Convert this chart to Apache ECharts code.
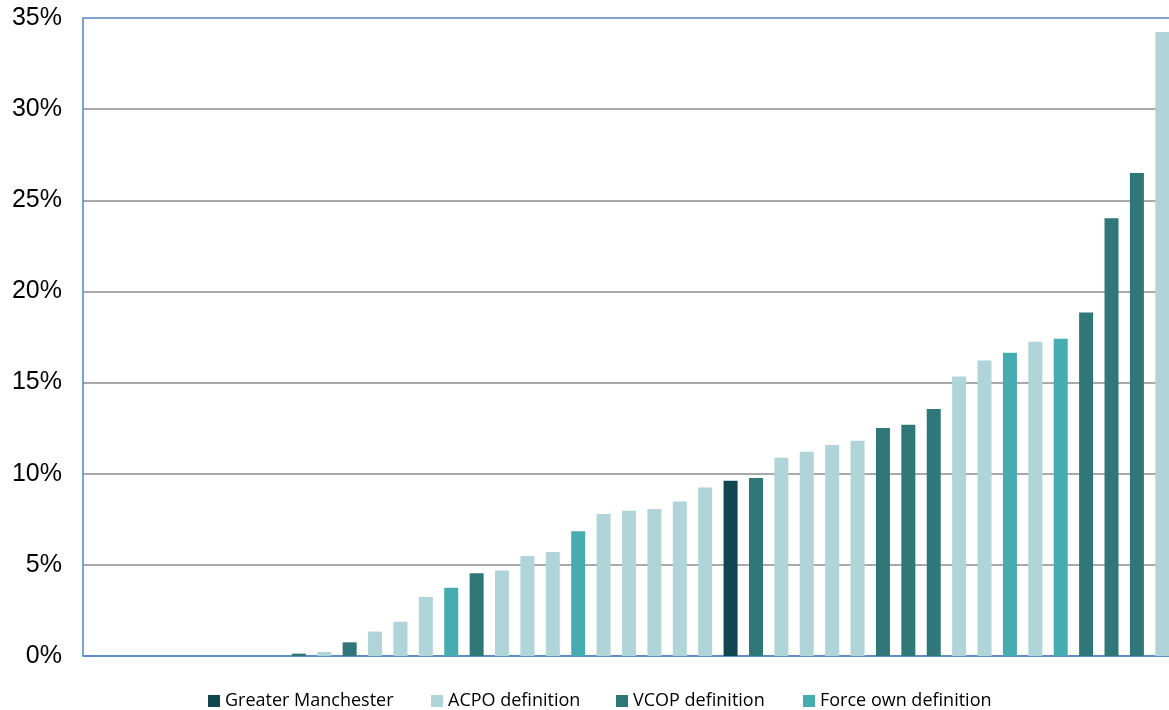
<!DOCTYPE html>
<html>
<head>
<meta charset="utf-8">
<script src="https://cdn.jsdelivr.net/npm/echarts@6/dist/echarts.min.js"></script>
<style>
  html, body { margin: 0; padding: 0; background: #fff; }
  #chart { width: 1169px; height: 710px; }
</style>
</head>
<body>
<div id="chart"></div>
<script>
// Share of recorded incidents, per police force, sorted ascending (percent)
const forceValues = [
  0, 0, 0, 0, 0, 0, 0, 0,
  0.13, 0.22, 0.75, 1.34, 1.88, 3.24, 3.75, 4.54, 4.69, 5.48, 5.71, 6.85,
  7.79, 7.97, 8.06, 8.48, 9.25, 9.62, 9.76, 10.88, 11.21, 11.58, 11.81,
  12.51, 12.68, 13.55, 15.33, 16.21, 16.63, 17.24, 17.40, 18.85, 24.01, 26.5, 34.23
];
// Definition used by each force: 0 = Greater Manchester, 1 = ACPO, 2 = VCOP, 3 = force's own
const forceDefinition = [
  1, 1, 1, 1, 1, 1, 1, 1,
  2, 1, 2, 1, 1, 1, 3, 2, 1, 1, 1, 3,
  1, 1, 1, 1, 1, 0, 2, 1, 1, 1, 1,
  2, 2, 2, 1, 1, 3, 1, 3, 2, 2, 2, 1
];
const categories = forceValues.map((_, i) => String(i + 1));
const seriesNames = ['Greater Manchester', 'ACPO definition', 'VCOP definition', 'Force own definition'];
const seriesColors = ['#0f4650', '#afd5d8', '#2f7779', '#47acb1'];
const legendLefts = [208, 431, 616, 803];
const yTicks = [0, 5, 10, 15, 20, 25, 30, 35];

const series = seriesNames.map((name, k) => ({
  name: name,
  type: 'bar',
  stack: 'forces',
  barWidth: 14,
  itemStyle: { color: seriesColors[k] },
  emphasis: { disabled: true },
  data: forceValues.map((v, i) => (forceDefinition[i] === k ? v : '-'))
}));

// one legend block per entry so each sits at its own x position
const legends = seriesNames.map((name, k) => ({
  data: [name],
  left: legendLefts[k],
  top: 692,
  padding: 0,
  itemWidth: 12,
  itemHeight: 12,
  itemGap: 0,
  icon: 'rect',
  textStyle: { fontFamily: 'Open Sans', fontSize: 18, color: '#000' },
  selectedMode: false
}));

const chart = echarts.init(document.getElementById('chart'), null, { renderer: 'canvas' });
chart.setOption({
  animation: false,
  backgroundColor: '#ffffff',
  grid: { left: 83, top: 18, width: 1092, height: 638, containLabel: false, outerBoundsMode: 'none' },
  legend: legends,
  xAxis: {
    type: 'category',
    data: categories,
    axisLine: { show: true, lineStyle: { color: '#5584c4', width: 1.5 } },
    axisTick: { show: false },
    axisLabel: { show: false },
    splitLine: { show: false }
  },
  yAxis: {
    type: 'value',
    min: yTicks[0],
    max: yTicks[yTicks.length - 1],
    interval: 5,
    axisLine: { show: true, lineStyle: { color: '#5584c4', width: 1.5 } },
    axisTick: { show: false },
    axisLabel: {
      formatter: '{value}%',
      fontFamily: 'Liberation Sans',
      fontSize: 25,
      color: '#000',
      margin: 21,
      padding: [4, 0, 0, 0]
    },
    splitLine: {
      show: true,
      lineStyle: {
        color: ['#5584c4', '#8c8c8c', '#8c8c8c', '#8c8c8c', '#8c8c8c', '#8c8c8c', '#8c8c8c', '#5584c4'],
        width: 1.5
      }
    }
  },
  series: series
});
</script>
</body>
</html>
